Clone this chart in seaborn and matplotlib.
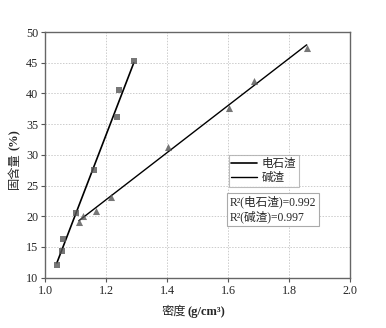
import matplotlib
matplotlib.use("Agg")
import matplotlib.pyplot as plt
import seaborn as sns
import numpy as np
import pandas as pd
from matplotlib.lines import Line2D

# Data
carbide_density = [1.039, 1.056, 1.059, 1.102, 1.162, 1.236, 1.244, 1.291]
carbide_solid = [12.0, 14.4, 16.25, 20.5, 27.5, 36.2, 40.5, 45.3]
soda_density = [1.111, 1.125, 1.166, 1.216, 1.402, 1.604, 1.686, 1.858]
soda_solid = [19.1, 20.0, 20.9, 23.2, 31.3, 37.6, 42.1, 47.4]
series_names = ["电石渣", "碱渣"]
r2_values = [0.992, 0.997]
x_ticks = [1.0, 1.2, 1.4, 1.6, 1.8, 2.0]
y_ticks = [10, 15, 20, 25, 30, 35, 40, 45, 50]

sns.set_style("ticks")
FAM = ['Liberation Serif', 'Noto Sans CJK SC', 'DejaVu Sans']
plt.rcParams['font.family'] = FAM

W, H = 386, 328
fig = plt.figure(figsize=(W / 100, H / 100), dpi=100)
ax = fig.add_axes([0.1166, 0.1534, 0.7901, 0.749])

df1 = pd.DataFrame({"x": carbide_density, "y": carbide_solid})
df2 = pd.DataFrame({"x": soda_density, "y": soda_solid})

sns.regplot(data=df1, x="x", y="y", ax=ax, ci=None, marker="s",
            scatter_kws={"color": "#555555", "s": 18, "zorder": 3, "linewidths": 0},
            line_kws={"color": "black", "lw": 1.2, "zorder": 2})
sns.regplot(data=df2, x="x", y="y", ax=ax, ci=None, marker="^",
            scatter_kws={"color": "#555555", "s": 26, "zorder": 3, "linewidths": 0},
            line_kws={"color": "black", "lw": 1.0, "zorder": 2})

ax.set_xlim(1.0, 2.0)
ax.set_ylim(10, 50)
ax.set_xticks(x_ticks)
ax.set_yticks(y_ticks)
ax.set_xticklabels([f"{t:.1f}" for t in x_ticks])
ax.set_yticklabels([str(t) for t in y_ticks])
ax.tick_params(labelsize=8.7, length=3, width=0.8, color="#555555", pad=2)
ax.grid(True, linestyle=(0, (1.5, 1.5)), color="#cccccc", lw=0.7)
for s in ax.spines.values():
    s.set_visible(True)
    s.set_color("#666666")
    s.set_linewidth(1.0)
ax.set_xlabel("")
ax.set_ylabel("")

def fx(px):
    return px / W

def fy(py):
    return (H - py) / H

# x label: Chinese regular + bold unit
fig.text(fx(186), fy(312), "密度", ha="right", va="center", fontsize=8.8, family=FAM)
fig.text(fx(188), fy(312), "(g/cm³)", ha="left", va="center", fontsize=9,
         fontweight="bold", family=FAM)
# y label
fig.text(fx(15), fy(152), "固含量", ha="center", va="top", rotation=90, fontsize=8.8, family=FAM)
fig.text(fx(15), fy(150), "(%)", ha="center", va="bottom", rotation=90, fontsize=9,
         fontweight="bold", family=FAM)

handles = [Line2D([0], [0], color="black", lw=1.2),
           Line2D([0], [0], color="black", lw=1.0)]
leg = ax.legend(handles, series_names, loc="upper left", bbox_to_anchor=(0.602, 0.50),
                borderaxespad=0, fontsize=8.3, fancybox=False, frameon=True,
                handlelength=2.2, handletextpad=0.4, borderpad=0.25, labelspacing=0.2)
leg.get_frame().set_edgecolor("#aaaaaa")
leg.get_frame().set_linewidth(0.8)

txt = "\n".join([f"R²({n})={v:.3f}" for n, v in zip(series_names, r2_values)])
ax.text(0.606, 0.336, txt, transform=ax.transAxes, fontsize=8.4, va="top", ha="left",
        linespacing=1.3,
        bbox=dict(boxstyle="square,pad=0.2", fc="white", ec="#aaaaaa", lw=0.8))

fig.savefig("out.png", dpi=100)
